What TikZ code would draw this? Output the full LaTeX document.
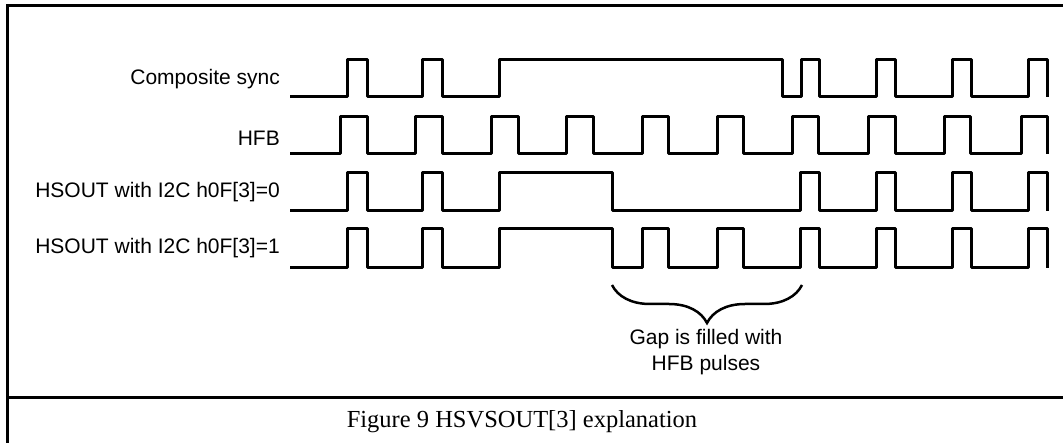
\documentclass[tikz,border=0pt]{standalone}
\usepackage{fontspec}
\setmainfont{Liberation Serif}
\newfontfamily\labelfont{Liberation Sans}
\usetikzlibrary{decorations.pathreplacing}
\tikzset{
  wave/.style={line width=3pt, line join=round},
  frameline/.style={line width=3pt},
  siglabel/.style={anchor=east, inner sep=0pt, font=\labelfont\fontsize{21}{25}\selectfont},
  note/.style={align=center, inner sep=0pt, font=\labelfont\fontsize{21}{26}\selectfont},
  caption/.style={inner sep=0pt, font=\fontsize{24.5}{28}\selectfont}
}
\begin{document}
\begin{tikzpicture}[x=1pt,y=-1pt]
\useasboundingbox (0,0) rectangle (1063,443);
% frame
\draw[frameline] (1063,6) -- (7,6) -- (7,443);
\draw[frameline] (7,398) -- (1063,398);
% labels
\node[siglabel] (lsync) at (280,79) {Composite sync};
\node[siglabel] (lhfb) at (280,138) {HFB};
\node[siglabel] (lh0) at (280,192) {HSOUT with I2C h0F[3]=0};
\node[siglabel] (lh1) at (280,248) {HSOUT with I2C h0F[3]=1};
% Composite sync
\draw[wave] (290,97) -- (347,97) -- (347,60) -- (367,60) -- (367,97) -- (422,97) -- (422,60) -- (442,60) -- (442,97)
  -- (499,97) -- (499,60) -- (782,60) -- (782,97) -- (801,97) -- (801,60) -- (819,60) -- (819,97)
  -- (876,97) -- (876,60) -- (895,60) -- (895,97) -- (952,97) -- (952,60) -- (971,60) -- (971,97)
  -- (1028,97) -- (1028,60) -- (1047,60) -- (1047,97);
% HFB
\draw[wave] (290,154) -- (340,154) -- (340,117) -- (367,117) -- (367,154)
  -- (415,154) -- (415,117) -- (442,117) -- (442,154)
  -- (491,154) -- (491,117) -- (518,117) -- (518,154)
  -- (566,154) -- (566,117) -- (593,117) -- (593,154)
  -- (642,154) -- (642,117) -- (668,117) -- (668,154)
  -- (717,154) -- (717,117) -- (743,117) -- (743,154)
  -- (792,154) -- (792,117) -- (818,117) -- (818,154)
  -- (868,154) -- (868,117) -- (895,117) -- (895,154)
  -- (944,154) -- (944,117) -- (970,117) -- (970,154)
  -- (1021,154) -- (1021,117) -- (1047,117) -- (1047,154);
% HSOUT =0
\draw[wave] (290,211) -- (347,211) -- (347,173) -- (367,173) -- (367,211) -- (422,211) -- (422,173) -- (442,173) -- (442,211)
  -- (499,211) -- (499,173) -- (612,173) -- (612,211) -- (800,211) -- (800,173) -- (819,173) -- (819,211)
  -- (876,211) -- (876,173) -- (895,173) -- (895,211) -- (952,211) -- (952,173) -- (971,173) -- (971,211)
  -- (1028,211) -- (1028,173) -- (1047,173) -- (1047,211);
% HSOUT =1
\draw[wave] (290,268) -- (347,268) -- (347,229) -- (367,229) -- (367,268) -- (422,268) -- (422,229) -- (442,229) -- (442,268)
  -- (499,268) -- (499,229) -- (612,229) -- (612,268) -- (642,268) -- (642,229) -- (668,229) -- (668,268)
  -- (717,268) -- (717,229) -- (743,229) -- (743,268) -- (800,268) -- (800,229) -- (819,229) -- (819,268)
  -- (876,268) -- (876,229) -- (895,229) -- (895,268) -- (952,268) -- (952,229) -- (971,229) -- (971,268)
  -- (1028,268) -- (1028,229) -- (1047,229) -- (1047,268);
% brace
\coordinate (bl) at (612,285);
\coordinate (br) at (802,285);
\draw[line width=2.5pt, decorate, decoration={brace, amplitude=38pt, mirror}] (bl) -- (br);
\node[note] (gap) at (706,352) {Gap is filled with\\HFB pulses};
% caption
\node[caption] (cap) at (522,422) {Figure 9 HSVSOUT[3] explanation};
\end{tikzpicture}
\end{document}
